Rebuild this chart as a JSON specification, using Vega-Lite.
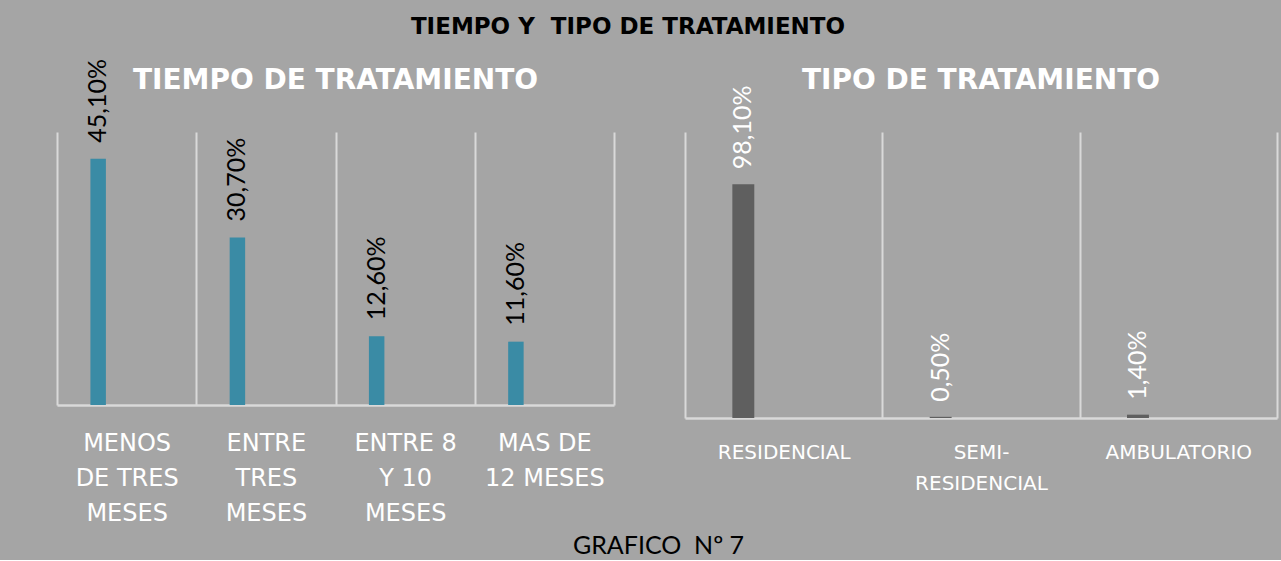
{
  "$schema": "https://vega.github.io/schema/vega-lite/v6.json",
  "background": "#A5A5A5",
  "padding": {"left": 57, "top": 16, "right": 4, "bottom": 2},
  "bounds": "flush",
  "spacing": 71,
  "resolve": {"scale": {"xOffset": "independent", "x": "independent", "y": "independent"}},
  "title": {"text": "TIEMPO Y\u00a0 TIPO DE TRATAMIENTO", "anchor": "middle", "font": "DejaVu Sans", "fontSize": 23, "fontWeight": "bold", "color": "#000000", "dx": -39, "offset": 20},
  "config": {
    "view": {"stroke": null},
    "font": "Lato",
    "locale": {"number": {"decimal": ",", "thousands": ".", "grouping": [3], "currency": ["", " €"]}}
  },
  "hconcat": [
    {
      "width": 557,
      "height": 273,
      "title": {"text": "TIEMPO DE TRATAMIENTO", "font": "DejaVu Sans", "fontSize": 28, "fontWeight": "bold", "color": "#FFFFFF", "anchor": "middle", "offset": -36},
      "data": {"values": [
        {"tiempo": "MENOS|DE TRES|MESES", "serie": "s", "pct": 0.451},
        {"tiempo": "ENTRE|TRES|MESES", "serie": "s", "pct": 0.307},
        {"tiempo": "ENTRE 8|Y 10|MESES", "serie": "s", "pct": 0.126},
        {"tiempo": "MAS DE|12 MESES", "serie": "s", "pct": 0.116}
      ]},
      "encoding": {
        "x": {"field": "tiempo", "type": "nominal", "sort": null,
          "scale": {"paddingInner": 0, "paddingOuter": 0},
          "axis": {"title": null, "labelExpr": "split(datum.label, '|')", "labelAngle": 0, "labelAlign": "center", "labelBaseline": "top",
            "labelColor": "#FFFFFF", "labelFont": "DejaVu Sans", "labelFontSize": 24, "labelLineHeight": 35, "labelPadding": 26,
            "ticks": false, "tickBand": "extent", "domainColor": "#D9D9D9", "domainWidth": 2.5,
            "grid": true, "gridColor": "#D9D9D9", "gridWidth": 2}},
        "xOffset": {"field": "serie", "type": "nominal", "scale": {"domain": ["s", "t", "u"], "paddingInner": 0.5, "paddingOuter": 1, "align": 0.54}},
        "y": {"field": "pct", "type": "quantitative", "scale": {"domain": [0, 0.5], "nice": false}, "axis": null}
      },
      "layer": [
        {"mark": {"type": "bar", "color": "#3A8BA5"}},
        {"mark": {"type": "text", "angle": 270, "align": "left", "baseline": "middle", "dx": 16, "font": "Lato", "fontSize": 25, "color": "#000000"},
         "encoding": {"text": {"field": "pct", "type": "quantitative", "format": ".2%"}}}
      ]
    },
    {
      "width": 592,
      "height": 286,
      "title": {"text": "TIPO DE TRATAMIENTO", "font": "DejaVu Sans", "fontSize": 28, "fontWeight": "bold", "color": "#FFFFFF", "anchor": "middle", "offset": -10},
      "data": {"values": [
        {"tipo": "RESIDENCIAL", "serie2": "s", "pct2": 0.981},
        {"tipo": "SEMI-|RESIDENCIAL", "serie2": "s", "pct2": 0.005},
        {"tipo": "AMBULATORIO", "serie2": "s", "pct2": 0.014}
      ]},
      "encoding": {
        "x": {"field": "tipo", "type": "nominal", "sort": null,
          "scale": {"paddingInner": 0, "paddingOuter": 0},
          "axis": {"title": "GRAFICO\u00a0 Nº 7", "titleColor": "#000000", "titleFont": "Lato", "titleFontSize": 25, "titleFontWeight": "normal",
            "titleX": -27, "titleY": 135, "titleAlign": "center", "titleBaseline": "alphabetic",
            "labelExpr": "split(datum.label, '|')", "labelAngle": 0, "labelAlign": "center", "labelBaseline": "top",
            "labelColor": "#FFFFFF", "labelFont": "DejaVu Sans", "labelFontSize": 20, "labelLineHeight": 31, "labelPadding": 24,
            "ticks": false, "tickBand": "extent", "domainColor": "#D9D9D9", "domainWidth": 2.5,
            "grid": true, "gridColor": "#D9D9D9", "gridWidth": 2}},
        "xOffset": {"field": "serie2", "type": "nominal", "scale": {"domain": ["s", "t", "u"], "paddingInner": 0.5, "paddingOuter": 1, "align": 0.54}},
        "y": {"field": "pct2", "type": "quantitative", "scale": {"domain": [0, 1.2], "nice": false}, "axis": null}
      },
      "layer": [
        {"mark": {"type": "bar", "color": "#5F5F5F"}},
        {"mark": {"type": "text", "angle": 270, "align": "left", "baseline": "middle", "dx": 15, "font": "Lato", "fontSize": 25, "color": "#FFFFFF"},
         "encoding": {"text": {"field": "pct2", "type": "quantitative", "format": ".2%"}}}
      ]
    }
  ]
}
